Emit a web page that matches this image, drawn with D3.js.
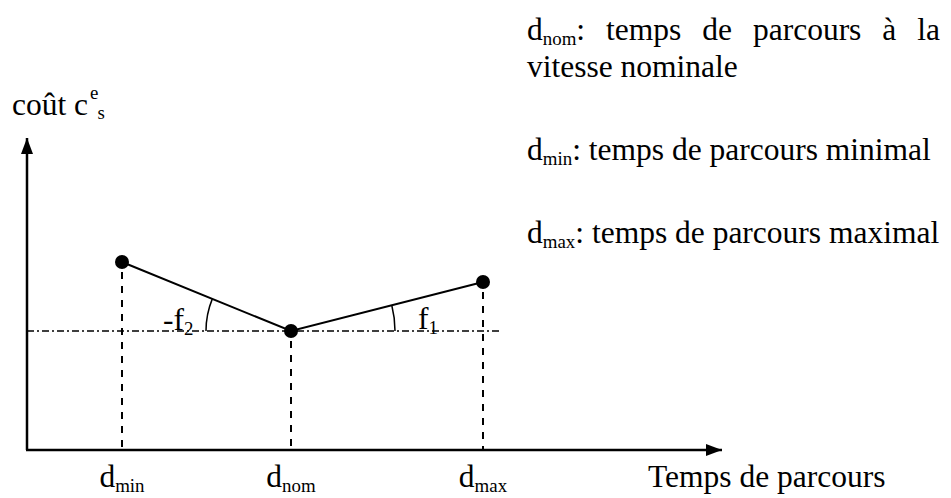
<!DOCTYPE html>
<html>
<head>
<meta charset="utf-8">
<script src="https://cdn.jsdelivr.net/npm/d3@7"></script>
<style>
  body { margin: 0; background: #fff; }
</style>
</head>
<body>
<div class="chart"></div>
<script>
// points of the cost curve
var labels = ["min", "nom", "max"];
var temps = [0.95, 2.64, 4.56];
var cout = [1.88, 1.19, 1.68];
var legend = [
  {sub: "nom", txt: ": temps de parcours à la", y: 40, justify: true},
  {sub: null, txt: "vitesse nominale", y: 77},
  {sub: "min", txt: ": temps de parcours minimal", y: 160},
  {sub: "max", txt: ": temps de parcours maximal", y: 243}
];

var W = 951, H = 498, fs = 31.5;
var FONT = "'Liberation Serif', 'Times New Roman', serif";

var svg = d3.select(".chart").append("svg")
  .attr("width", W).attr("height", H)
  .style("font-family", FONT);

var x = d3.scaleLinear().domain([0, 6.95]).range([27, 722]);
var y = d3.scaleLinear().domain([0, 3.12]).range([450, 138]);

svg.append("defs").append("marker")
  .attr("id", "arrow")
  .attr("viewBox", "0 0 16 12")
  .attr("refX", 16).attr("refY", 6)
  .attr("markerWidth", 16).attr("markerHeight", 12)
  .attr("markerUnits", "userSpaceOnUse")
  .attr("orient", "auto")
  .append("path").attr("d", "M0,0L16,6L0,12Z").attr("fill", "#000");

// axes
svg.append("line")
  .attr("x1", x(0)).attr("y1", y(0)).attr("x2", x(0)).attr("y2", y(3.12))
  .attr("stroke", "#000").attr("stroke-width", 2.5).attr("marker-end", "url(#arrow)");
svg.append("line")
  .attr("x1", x(0) - 1).attr("y1", y(0)).attr("x2", x(6.95)).attr("y2", y(0))
  .attr("stroke", "#000").attr("stroke-width", 2.5).attr("marker-end", "url(#arrow)");

// horizontal reference at nominal cost
svg.append("line")
  .attr("x1", x(0)).attr("x2", x(4.73))
  .attr("y1", y(cout[1])).attr("y2", y(cout[1]))
  .attr("stroke", "#000").attr("stroke-width", 1.6)
  .attr("stroke-dasharray", "7,3,2,3");

// vertical dashed drops
svg.selectAll(".drop").data(temps).enter().append("line")
  .attr("class", "drop")
  .attr("x1", function(d){ return x(d); }).attr("x2", function(d){ return x(d); })
  .attr("y1", function(d, i){ return y(cout[i]) + 10; }).attr("y2", y(0))
  .attr("stroke", "#000").attr("stroke-width", 2)
  .attr("stroke-dasharray", "7,7");

// the curve
var line = d3.line()
  .x(function(d){ return x(d[0]); })
  .y(function(d){ return y(d[1]); });
svg.append("path")
  .datum(d3.zip(temps, cout))
  .attr("d", line)
  .attr("fill", "none").attr("stroke", "#000").attr("stroke-width", 2);

svg.selectAll(".pt").data(temps).enter().append("circle")
  .attr("class", "pt")
  .attr("cx", function(d){ return x(d); })
  .attr("cy", function(d, i){ return y(cout[i]); })
  .attr("r", 7).attr("fill", "#000");

// angle arcs
var cx = x(temps[1]), cy = y(cout[1]);
var a2 = Math.atan2(y(cout[0]) - cy, x(temps[0]) - cx);
var a1 = Math.atan2(y(cout[2]) - cy, x(temps[2]) - cx);
var p2 = d3.path();
p2.arc(cx, cy, 85, Math.PI, a2 + 2 * Math.PI, false);
var p1 = d3.path();
p1.arc(cx, cy, 104, a1, 0, false);
[p2, p1].forEach(function(p){
  svg.append("path").attr("d", p.toString())
    .attr("fill", "none").attr("stroke", "#000").attr("stroke-width", 1.5);
});

function subText(g, xx, yy, main, sub, after, size) {
  var t = g.append("text").attr("x", xx).attr("y", yy)
    .style("font-family", FONT).style("font-size", size + "px");
  t.append("tspan").text(main);
  if (sub) t.append("tspan").attr("dy", size * 0.17).style("font-size", (size * 0.6) + "px").text(sub);
  if (after) t.append("tspan").attr("dy", sub ? -size * 0.17 : 0).text(after);
  return t;
}

subText(svg, 163, 330, "-f", "2", null, fs);
subText(svg, 418, 329, "f", "1", null, fs);

// bottom labels
labels.forEach(function(d, i){
  subText(svg, x(temps[i]), 487, "d", d, null, fs).attr("text-anchor", "middle");
});
svg.append("text").attr("x", 648).attr("y", 487)
  .style("font-family", FONT).style("font-size", fs + "px").text("Temps de parcours");

// y label
var yl = svg.append("text").attr("x", 12).attr("y", 115)
  .style("font-family", FONT).style("font-size", fs + "px");
yl.append("tspan").text("coût c");
yl.append("tspan").attr("dx", 2).attr("dy", -16).style("font-size", (fs * 0.6) + "px").text("e");
yl.append("tspan").attr("dx", -1).attr("dy", 20).style("font-size", (fs * 0.6) + "px").text("s");

// legend
legend.forEach(function(l){
  var t;
  if (l.sub) t = subText(svg, 527, l.y, "d", l.sub, l.txt, fs);
  else t = svg.append("text").attr("x", 527).attr("y", l.y)
    .style("font-family", FONT).style("font-size", fs + "px").text(l.txt);
  if (l.justify) {
    var len = t.node().getComputedTextLength();
    var nSp = l.txt.split(" ").length - 1;
    t.style("word-spacing", Math.max(0, (940 - 527 - len) / nSp) + "px");
  }
});
</script>
</body>
</html>
